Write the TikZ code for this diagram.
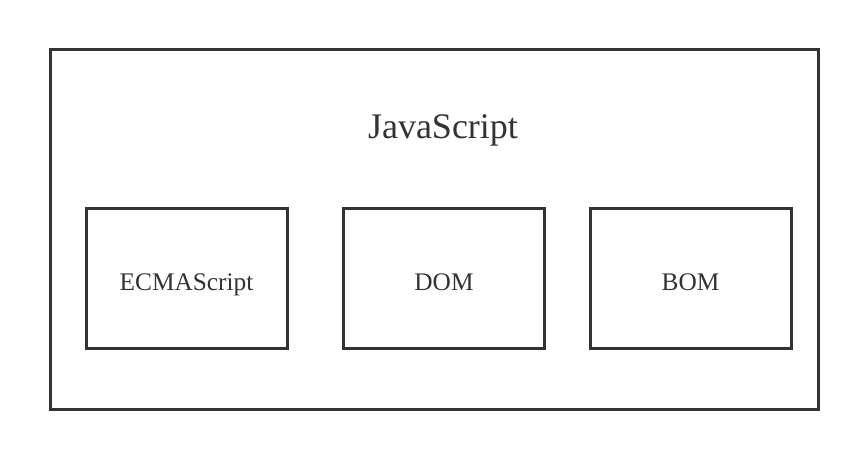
\documentclass[tikz,border=0pt]{standalone}
\usepackage{fontspec}
\setmainfont{Liberation Serif}
\definecolor{ink}{HTML}{333333}
\begin{document}
\begin{tikzpicture}[x=0.75pt,y=-0.75pt,
  frame/.style={draw=ink,line width=2.25pt},
  part/.style={frame,minimum width=201*0.75pt,minimum height=140*0.75pt,inner sep=0pt},
  lbl/.style={text=ink,anchor=base,inner sep=0pt,font=\fontsize{19}{22}\selectfont},
]
\useasboundingbox (0,0) rectangle (868,460);
\node[frame,minimum width=768*0.75pt,minimum height=359*0.75pt,inner sep=0pt] (outer) at (434,229.5) {};
\node[text=ink,anchor=base,inner sep=0pt,font=\fontsize{27}{32}\selectfont] (title) at (443,138) {JavaScript};
\node[part] (ecma) at (186.5,278) {};
\node[part] (dom) at (444,278) {};
\node[part] (bom) at (690.5,278) {};
\node[lbl] (ecmat) at (186.5,290) {ECMAScript};
\node[lbl] (domt) at (444,290) {DOM};
\node[lbl] (bomt) at (690.5,290) {BOM};
\end{tikzpicture}
\end{document}
